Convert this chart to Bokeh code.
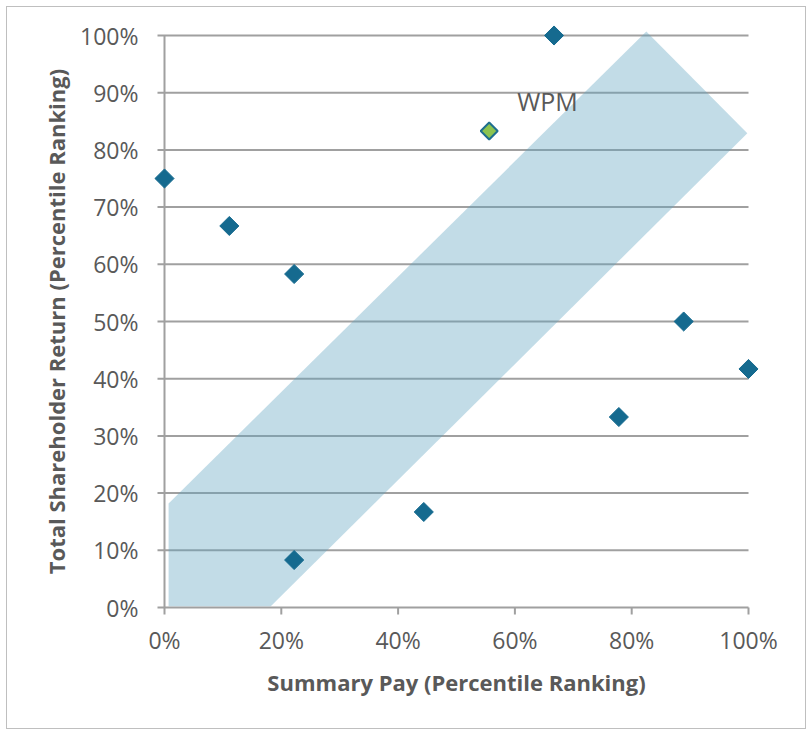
import numpy as np
from bokeh.plotting import figure
from bokeh.models import NumeralTickFormatter, FixedTicker, Label
from bokeh.embed import file_html
from bokeh.resources import INLINE

# Data (percentile rankings, fractions)
pay = [0.0, 0.111, 0.222, 0.222, 0.444, 0.667, 0.778, 0.889, 1.0]
tsr = [0.75, 0.667, 0.583, 0.083, 0.167, 1.0, 0.333, 0.50, 0.417]
wpm_pay = [0.556]
wpm_tsr = [0.833]
wpm_label = "WPM"

# Alignment band (rotated rectangle), vertices in data units
band_x = [0.007, 0.007, 0.182, 0.998, 0.825, 0.007]
band_y = [0.182, 0.002, 0.002, 0.829, 1.007, 0.182]

x_ticks = [0, 0.2, 0.4, 0.6, 0.8, 1.0]
y_ticks = [0, 0.1, 0.2, 0.3, 0.4, 0.5, 0.6, 0.7, 0.8, 0.9, 1.0]

FONT = "Open Sans"
GREY = "#595959"
LINE = "#a0a0a0"

FW, FH = 584, 572
PAD = 12
px = PAD / FW
py = PAD / FH
TICK = 7  # tick length in px

p = figure(frame_width=FW + 2 * PAD, frame_height=FH + 2 * PAD,
           min_border_left=157 - PAD, min_border_right=57 - PAD,
           min_border_top=28 - PAD, min_border_bottom=121 - PAD,
           x_range=(-px, 1 + px), y_range=(-py, 1 + py),
           output_backend="svg", toolbar_location=None)
p.styles = {"border": "1px solid #bfbfbf", "margin": "6px 0 0 6px"}
p.outline_line_color = None
p.xgrid.grid_line_color = None
p.ygrid.grid_line_color = None

# gridlines, axis line and tick marks limited to the data area
ny, nx = len(y_ticks), len(x_ticks)
p.segment(x0=[-TICK / FW] * ny, x1=[1] * ny, y0=y_ticks, y1=y_ticks,
          line_color=LINE, line_width=2)
p.segment(x0=[0], x1=[0], y0=[0], y1=[1], line_color=LINE, line_width=2)
p.segment(x0=x_ticks, x1=x_ticks, y0=[-TICK / FH] * nx, y1=[0] * nx,
          line_color=LINE, line_width=2)

# axes: labels only
for ax in (p.xaxis[0], p.yaxis[0]):
    ax.formatter = NumeralTickFormatter(format="0%")
    ax.axis_line_color = None
    ax.major_tick_line_color = None
    ax.major_tick_out = 0
    ax.major_tick_in = 0
    ax.minor_tick_line_color = None
    ax.major_label_text_font = FONT
    ax.major_label_text_font_size = "23px"
    ax.major_label_text_color = GREY
    ax.axis_label_text_font = FONT
    ax.axis_label_text_font_style = "bold"
    ax.axis_label_text_font_size = "22px"
    ax.axis_label_text_color = GREY

p.xaxis.ticker = FixedTicker(ticks=x_ticks)
p.yaxis.ticker = FixedTicker(ticks=y_ticks)
p.xaxis.axis_label = "Summary Pay (Percentile Ranking)"
p.yaxis.axis_label = "Total Shareholder Return (Percentile Ranking)"
p.xaxis.major_label_standoff = 4
p.yaxis.major_label_standoff = 14
p.xaxis.axis_label_standoff = 8
p.yaxis.axis_label_standoff = 6

# band
p.patch(band_x, band_y, fill_color="#5ea3c0", fill_alpha=0.38, line_color=None)

# peers
p.scatter(pay, tsr, marker="square", angle=np.pi / 4, size=13.5,
          fill_color="#156a8f", line_color="#156a8f", line_width=1)
# WPM
p.scatter(wpm_pay, wpm_tsr, marker="square", angle=np.pi / 4, size=12,
          fill_color="#8cc44f", line_color="#1f6f8f", line_width=2)
p.add_layout(Label(x=wpm_pay[0], y=wpm_tsr[0], text=wpm_label,
                   x_offset=28, y_offset=30, text_font=FONT,
                   text_font_size="25px", text_color=GREY,
                   text_baseline="middle"))

open("out.html", "w").write(file_html(p, INLINE))
